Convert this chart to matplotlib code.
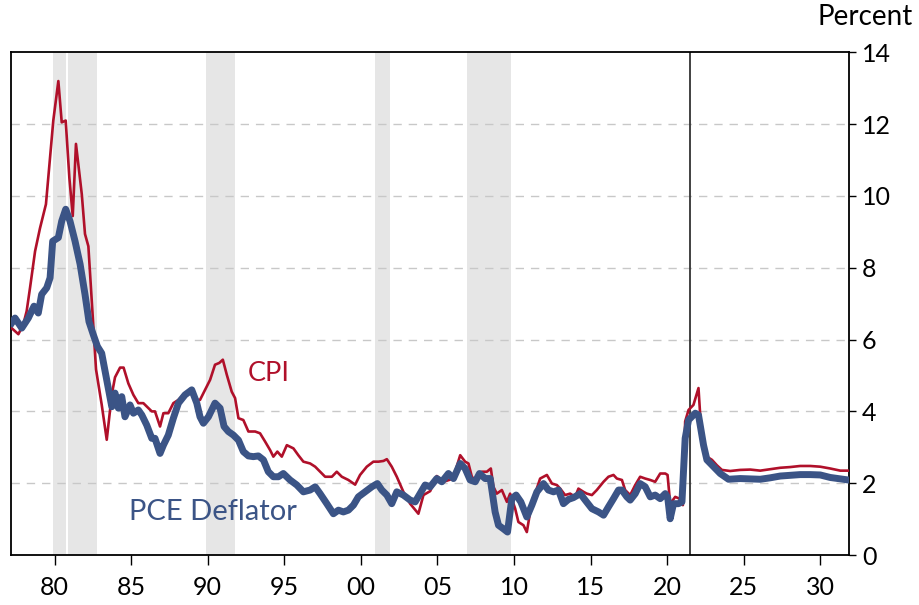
import matplotlib
matplotlib.use('Agg')
import matplotlib.pyplot as plt

plt.rcParams['font.family'] = ['Lato', 'DejaVu Sans']

# CPI, year-over-year %
cpi_dates = [1977.20, 1977.64, 1977.96, 1978.18, 1978.40, 1978.73, 1979.05, 1979.44, 1979.92, 1980.25,
             1980.47, 1980.73, 1980.97, 1981.19, 1981.40, 1981.78, 1981.99, 1982.21, 1982.43, 1982.71,
             1983.08, 1983.41, 1983.74, 1983.95, 1984.28, 1984.51, 1984.82, 1985.15, 1985.47, 1985.80,
             1986.13, 1986.35, 1986.56, 1986.89, 1987.11, 1987.43, 1987.76, 1988.09, 1988.41, 1988.85,
             1989.18, 1989.50, 1989.83, 1990.16, 1990.48, 1990.76, 1990.99, 1991.25, 1991.57, 1991.79,
             1992.01, 1992.33, 1992.66, 1993.10, 1993.42, 1993.75, 1994.08, 1994.29, 1994.55, 1994.84,
             1995.17, 1995.60, 1995.92, 1996.25, 1996.69, 1997.02, 1997.34, 1997.67, 1998.11, 1998.43,
             1998.76, 1999.19, 1999.63, 1999.95, 2000.39, 2000.82, 2001.15, 2001.48, 2001.70, 2002.02,
             2002.35, 2002.78, 2003.22, 2003.76, 2004.09, 2004.53, 2004.96, 2005.40, 2005.83, 2006.16,
             2006.49, 2006.81, 2007.03, 2007.25, 2007.58, 2007.90, 2008.23, 2008.49, 2008.66, 2008.88,
             2009.21, 2009.54, 2009.75, 2010.08, 2010.29, 2010.62, 2010.84, 2011.06, 2011.38, 2011.71,
             2012.15, 2012.48, 2012.80, 2013.02, 2013.34, 2013.67, 2014.00, 2014.21, 2014.54, 2014.76,
             2015.09, 2015.41, 2015.85, 2016.17, 2016.50, 2016.72, 2017.05, 2017.26, 2017.59, 2017.92,
             2018.24, 2018.57, 2018.90, 2019.22, 2019.55, 2019.88, 2020.03, 2020.20, 2020.53, 2020.81,
             2021.03, 2021.18, 2021.40, 2021.72, 2022.05, 2022.27, 2022.60, 2022.93, 2023.25, 2023.58,
             2024.12, 2024.77, 2025.43, 2026.08, 2026.73, 2027.39, 2028.04, 2028.69, 2029.35, 2030.00,
             2030.65, 2031.31, 2031.83]
cpi_vals = [6.32, 6.15, 6.42, 6.79, 7.44, 8.46, 9.10, 9.77, 12.10, 13.20,
            12.05, 12.10, 10.50, 9.44, 11.45, 10.05, 8.94, 8.60, 7.07, 5.17,
            4.19, 3.21, 4.47, 4.95, 5.22, 5.22, 4.78, 4.46, 4.23, 4.23,
            4.09, 4.00, 4.00, 3.58, 3.95, 3.95, 4.23, 4.32, 4.46, 4.55,
            4.32, 4.32, 4.60, 4.88, 5.30, 5.35, 5.44, 5.02, 4.55, 4.37,
            3.81, 3.76, 3.44, 3.44, 3.39, 3.16, 2.92, 2.74, 2.88, 2.74,
            3.06, 2.97, 2.78, 2.60, 2.55, 2.46, 2.32, 2.18, 2.18, 2.32,
            2.18, 2.09, 1.96, 2.23, 2.46, 2.60, 2.60, 2.62, 2.67, 2.46,
            2.18, 1.76, 1.43, 1.15, 1.67, 1.78, 2.20, 2.04, 2.10, 2.32,
            2.78, 2.60, 2.55, 2.18, 2.04, 2.32, 2.32, 2.41, 1.90, 1.71,
            1.81, 1.48, 1.71, 1.29, 0.92, 0.83, 0.64, 1.20, 1.71, 2.13,
            2.23, 1.99, 1.95, 1.85, 1.67, 1.71, 1.62, 1.85, 1.76, 1.71,
            1.67, 1.81, 2.04, 2.18, 2.23, 2.13, 2.09, 1.81, 1.67, 1.95,
            2.18, 2.13, 2.09, 2.04, 2.27, 2.27, 2.23, 1.43, 1.62, 1.57,
            1.39, 3.72, 4.04, 4.18, 4.65, 3.16, 2.74, 2.65, 2.50, 2.37,
            2.34, 2.37, 2.38, 2.35, 2.39, 2.43, 2.45, 2.48, 2.48, 2.46,
            2.41, 2.35, 2.35]

# PCE deflator, year-over-year %
pce_dates = [1977.20, 1977.42, 1977.86, 1978.29, 1978.66, 1978.94, 1979.16, 1979.49, 1979.71, 1979.88,
             1980.25, 1980.47, 1980.73, 1981.01, 1981.34, 1981.67, 1981.99, 1982.25, 1982.53, 1982.80,
             1983.08, 1983.33, 1983.51, 1983.74, 1983.95, 1984.17, 1984.39, 1984.60, 1984.93, 1985.15,
             1985.47, 1985.70, 1986.02, 1986.35, 1986.56, 1986.89, 1987.11, 1987.43, 1987.76, 1988.09,
             1988.52, 1988.96, 1989.29, 1989.50, 1989.72, 1990.05, 1990.48, 1990.81, 1991.07, 1991.35,
             1991.68, 1992.01, 1992.33, 1992.66, 1992.98, 1993.31, 1993.64, 1993.96, 1994.29, 1994.62,
             1994.94, 1995.38, 1995.82, 1996.25, 1996.69, 1997.02, 1997.34, 1997.78, 1998.21, 1998.54,
             1998.86, 1999.19, 1999.52, 1999.84, 2000.28, 2000.72, 2001.08, 2001.37, 2001.70, 2002.02,
             2002.35, 2002.78, 2003.22, 2003.55, 2003.87, 2004.20, 2004.53, 2004.96, 2005.29, 2005.72,
             2006.05, 2006.49, 2006.81, 2007.14, 2007.47, 2007.75, 2008.12, 2008.45, 2008.77, 2008.99,
             2009.31, 2009.58, 2009.86, 2010.14, 2010.45, 2010.84, 2011.17, 2011.50, 2011.93, 2012.25,
             2012.58, 2012.91, 2013.23, 2013.56, 2013.89, 2014.33, 2014.65, 2015.09, 2015.52, 2015.85,
             2016.17, 2016.50, 2016.83, 2017.05, 2017.37, 2017.59, 2017.92, 2018.24, 2018.57, 2018.90,
             2019.22, 2019.55, 2019.88, 2020.04, 2020.20, 2020.42, 2020.74, 2020.97, 2021.18, 2021.40,
             2021.84, 2022.05, 2022.38, 2022.60, 2023.03, 2023.47, 2024.01, 2024.77, 2025.43, 2026.08,
             2026.73, 2027.39, 2028.04, 2028.69, 2029.35, 2030.00, 2030.65, 2031.83]
pce_vals = [6.46, 6.60, 6.32, 6.60, 6.93, 6.74, 7.26, 7.44, 7.72, 8.74,
            8.84, 9.30, 9.63, 9.30, 8.74, 8.10, 7.26, 6.50, 6.14, 5.81,
            5.62, 5.06, 4.65, 4.13, 4.51, 4.09, 4.41, 3.85, 4.18, 3.95,
            4.04, 3.90, 3.62, 3.25, 3.25, 2.83, 3.06, 3.34, 3.81, 4.23,
            4.46, 4.60, 4.23, 3.85, 3.67, 3.85, 4.23, 4.09, 3.58, 3.44,
            3.34, 3.20, 2.88, 2.76, 2.74, 2.76, 2.65, 2.32, 2.18, 2.18,
            2.27, 2.09, 1.95, 1.76, 1.81, 1.90, 1.71, 1.43, 1.15, 1.25,
            1.20, 1.25, 1.39, 1.62, 1.76, 1.90, 1.99, 1.81, 1.67, 1.43,
            1.76, 1.67, 1.53, 1.48, 1.71, 1.95, 1.90, 2.13, 2.04, 2.27,
            2.13, 2.55, 2.41, 2.09, 2.04, 2.27, 2.13, 2.13, 1.20, 0.83,
            0.73, 0.64, 1.57, 1.67, 1.48, 1.06, 1.39, 1.76, 1.99, 1.81,
            1.76, 1.81, 1.43, 1.55, 1.60, 1.71, 1.53, 1.29, 1.20, 1.11,
            1.34, 1.57, 1.81, 1.81, 1.62, 1.53, 1.71, 1.99, 1.90, 1.62,
            1.67, 1.57, 1.71, 1.60, 1.01, 1.43, 1.43, 1.48, 3.25, 3.76,
            3.95, 3.90, 3.06, 2.65, 2.46, 2.27, 2.11, 2.13, 2.12, 2.11,
            2.15, 2.20, 2.22, 2.24, 2.24, 2.23, 2.16, 2.09]

recessions = [(1979.9, 1980.75), (1980.9, 1982.8), (1989.9, 1991.8),
              (2000.95, 2001.9), (2006.95, 2009.8)]
forecast_start = 2021.5

x_ticks = [1980, 1985, 1990, 1995, 2000, 2005, 2010, 2015, 2020, 2025, 2030]
x_labels = ['80', '85', '90', '95', '00', '05', '10', '15', '20', '25', '30']
y_ticks = [0, 2, 4, 6, 8, 10, 12, 14]

red = '#B0102A'
blue = '#3B5486'

fig = plt.figure(figsize=(9.19, 6.05), dpi=100)
ax = fig.add_axes([0.012, 0.0826, 0.9122, 0.8309])

for r0, r1 in recessions:
    ax.axvspan(r0, r1, color='#E6E6E6', lw=0, zorder=0)

for yv in y_ticks[1:-1]:
    ax.axhline(yv, color='#C8C8C8', lw=1, ls=(0, (6, 5)), zorder=1)

ax.axvline(forecast_start, color='#333333', lw=1.3, zorder=2)

ax.plot(cpi_dates, cpi_vals, color=red, lw=1.9, zorder=3)
ax.plot(pce_dates, pce_vals, color=blue, lw=5.0, zorder=4, solid_joinstyle='round')

ax.text(1994.0, 5.05, 'CPI', color=red, fontsize=19.5, ha='center', va='center')
ax.text(1990.35, 1.2, 'PCE Deflator', color=blue, fontsize=21, ha='center', va='center')

ax.set_xlim(1977.16, 2031.9)
ax.set_ylim(0, 14)
ax.set_xticks(x_ticks)
ax.set_xticklabels(x_labels)
ax.set_yticks(y_ticks)
ax.yaxis.tick_right()
ax.tick_params(axis='x', direction='out', length=7, width=1, labelsize=18, pad=8)
ax.tick_params(axis='y', direction='out', length=5, width=1, labelsize=18, pad=4)
for s in ax.spines.values():
    s.set_color('black')
    s.set_linewidth(1.3)

fig.text(0.993, 0.972, 'Percent', fontsize=20, ha='right', va='center')

fig.savefig('out.png', dpi=100)
